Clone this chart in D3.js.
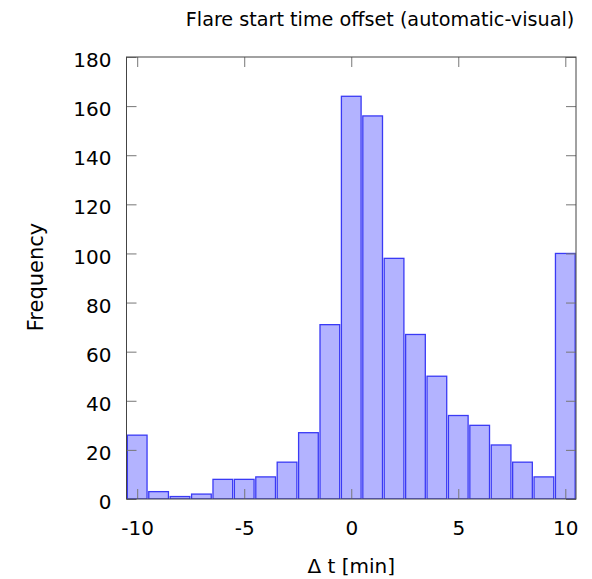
<!DOCTYPE html>
<html>
<head>
<meta charset="utf-8">
<script src="https://cdn.jsdelivr.net/npm/d3@7"></script>
<style>
  html, body { margin: 0; padding: 0; background: #fff; }
  text { font-family: "DejaVu Sans", Verdana, sans-serif; fill: #000; }
</style>
</head>
<body>
<svg id="chart" width="592" height="579"></svg>
<script>
// Histogram bins: offset in minutes (bin centre) and event counts
const offsets = [-10, -9, -8, -7, -6, -5, -4, -3, -2, -1, 0, 1, 2, 3, 4, 5, 6, 7, 8, 9, 10];
const counts  = [26, 3, 1, 2, 8, 8, 9, 15, 27, 71, 164, 156, 98, 67, 50, 34, 30, 22, 15, 9, 100];
const xTicks = [-10, -5, 0, 5, 10];
const yTicks = [0, 20, 40, 60, 80, 100, 120, 140, 160, 180];

const title = "Flare start time offset (automatic-visual)";
const xLabel = "\u0394 t [min]";
const yLabel = "Frequency";

const svg = d3.select("#chart");
const plotL = 126.5, plotR = 576, plotT = 57, plotB = 499;
const fontSize = 20;

const x = d3.scaleLinear().domain([-10.5, 10.5]).range([plotL, plotR]);
const y = d3.scaleLinear().domain([0, 180]).range([plotB, plotT]);
const boxWidth = 0.92;

const data = offsets.map((o, i) => ({ o, c: counts[i] }));

// bars, clipped to the plot frame
svg.append("clipPath").attr("id", "plotClip")
  .append("rect").attr("x", plotL).attr("y", plotT).attr("width", plotR - plotL).attr("height", plotB - plotT);

svg.append("g").attr("clip-path", "url(#plotClip)")
  .selectAll("rect").data(data).join("rect")
  .attr("x", d => x(d.o - boxWidth / 2))
  .attr("width", d => x(d.o + boxWidth / 2) - x(d.o - boxWidth / 2))
  .attr("y", d => y(d.c))
  .attr("height", d => y(0) - y(d.c))
  .attr("fill", "#b3b3ff")
  .attr("stroke", "#3a3af5")
  .attr("stroke-width", 1.3);

// axes with inward ticks, mirrored on the opposite sides; plain hyphen for negatives
const plain = d => String(d);
const tickLen = 10;
const xAxisBottom = d3.axisBottom(x).tickValues(xTicks).tickSize(-tickLen).tickPadding(22).tickFormat(plain);
const xAxisTop = d3.axisTop(x).tickValues(xTicks).tickSize(-tickLen).tickFormat("");
const yAxisLeft = d3.axisLeft(y).tickValues(yTicks).tickSize(-tickLen).tickPadding(15).tickFormat(plain);
const yAxisRight = d3.axisRight(y).tickValues(yTicks).tickSize(-tickLen).tickFormat("");

function styleAxis(g) {
  g.select(".domain").remove();
  g.selectAll(".tick line").attr("stroke", "#777").attr("stroke-width", 1);
  g.selectAll(".tick text")
    .style("font-family", "'DejaVu Sans', Verdana, sans-serif")
    .style("font-size", fontSize + "px").attr("fill", "#000");
}

svg.append("g").attr("transform", `translate(0,${plotB})`).call(xAxisBottom).call(styleAxis);
svg.append("g").attr("transform", `translate(0,${plotT})`).call(xAxisTop).call(styleAxis);
svg.append("g").attr("transform", `translate(${plotL},0)`).call(yAxisLeft).call(styleAxis)
  .selectAll(".tick text").attr("dy", "0.48em");
svg.append("g").attr("transform", `translate(${plotR},0)`).call(yAxisRight).call(styleAxis);

// frame
svg.append("rect")
  .attr("x", plotL).attr("y", plotT).attr("width", plotR - plotL).attr("height", plotB - plotT)
  .attr("fill", "none").attr("stroke", "#444").attr("stroke-width", 1);

// titles
svg.append("text").attr("x", 380).attr("y", 26)
  .attr("text-anchor", "middle").style("font-size", "19.2px").text(title);
svg.append("text").attr("x", (plotL + plotR) / 2).attr("y", 573)
  .attr("text-anchor", "middle").style("font-size", fontSize + "px").text(xLabel);
svg.append("text").attr("transform", `translate(43,277) rotate(-90)`)
  .attr("text-anchor", "middle").style("font-size", "21px").text(yLabel);
</script>
</body>
</html>
